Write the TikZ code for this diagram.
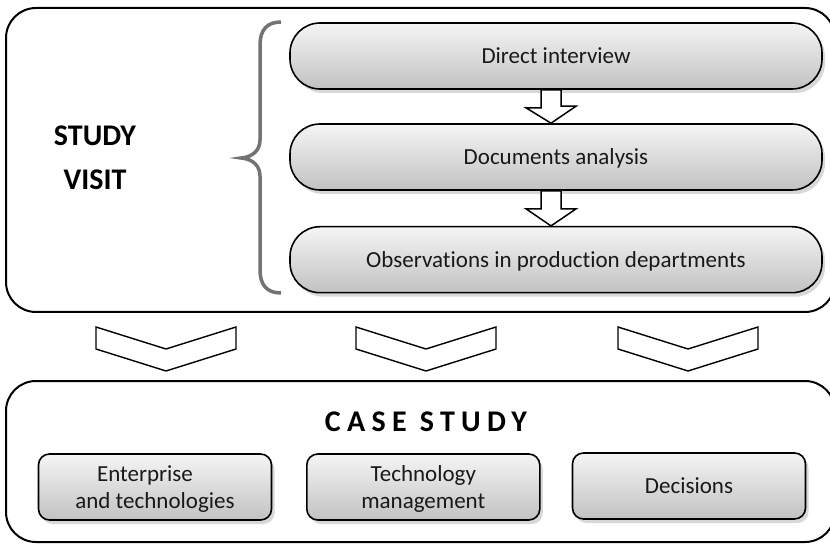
\documentclass[tikz,border=0pt]{standalone}
\usepackage{fontspec}
\setmainfont{Carlito}[Ligatures=CommonOff]
\usetikzlibrary{calc,shadows}
\begin{document}
\begin{tikzpicture}[x=1pt,y=-1pt,
  frame/.style={draw=black,line width=2pt,rounded corners=30pt},
  shadowed/.style={drop shadow={opacity=0.3,shadow xshift=3pt,shadow yshift=-4pt}},
  pill/.style={shadowed,draw=black,line width=1.6pt,rounded corners=30pt,
    top color=black!4,bottom color=black!24,
    minimum width=532pt,minimum height=66pt,
    font=\fontsize{23}{27}\selectfont,text=black!90,text height=15pt,text depth=0pt},
  sbox/.style={shadowed,draw=black,line width=1.6pt,rounded corners=11pt,
    top color=black!4,bottom color=black!24,
    minimum width=233pt,minimum height=66pt,align=center,
    font=\fontsize{23}{26.6}\selectfont,text=black!90,text depth=0pt},
  blockarrow/.style={draw=black,line width=1.5pt,fill=white,line join=miter},
  chevron/.style={draw=black,line width=1.4pt,fill=white,line join=miter},
  bracestyle/.style={draw=black!55,line width=3.5pt},
  title/.style={font=\fontsize{30}{44}\selectfont\bfseries,align=center,text depth=0pt}
]
\useasboundingbox (0,0) rectangle (830,545);
\clip (0,0) rectangle (830,545);
\fill[white] (0,0) rectangle (830,545);

% outer frames
\draw[frame] (6,8) rectangle (835,312);
\draw[frame] (6,381) rectangle (835,542);

% study visit
\node[title] (sv) at (95,158) {STUDY\\VISIT};

% brace
\draw[bracestyle] (281,22) .. controls (267,22) and (260,30) .. (260,45)
  -- (260,140) .. controls (260,150) and (253,157) .. (241,158)
  .. controls (253,159) and (260,166) .. (260,176)
  -- (260,270) .. controls (260,285) and (267,293) .. (281,293);

% pills
\node[pill] (p1) at (556,56) {Direct interview};
\node[pill] (p2) at (556,157) {Documents analysis};
\node[pill] (p3) at (556,259.7) {Observations in production departments};

% hollow arrows between pills
\draw[blockarrow] ($(p1.south)+(-15,0)$) -- ++(0,18) -- ++(-15,0)
  -- ($(p2.north)+(-5,0)$) -- ++(25,-17) -- ++(-15,0)
  -- ($(p1.south)+(5,0)$) -- cycle;
\draw[blockarrow] ($(p2.south)+(-15,0)$) -- ++(0,18) -- ++(-15,0)
  -- ($(p3.north)+(-5,0)$) -- ++(25,-17) -- ++(-15,0)
  -- ($(p2.south)+(5,0)$) -- cycle;

% chevrons
\foreach \c in {166,426,688}
  \draw[chevron] (\c-70,327) -- (\c,349) -- (\c+70,327) -- (\c+70,349)
    -- (\c,371) -- (\c-70,349) -- cycle;

% case study
\node[font=\fontsize{30}{36}\selectfont\bfseries\addfontfeature{LetterSpace=21},
  text height=20pt,text depth=0pt] (cs) at (426,421.7) {CASE STUDY};

\node[sbox] (b1) at (155,487) {Enterprise\rule{20pt}{0pt}\\and technologies};
\node[sbox] (b2) at (423.3,487) {Technology\\management};
\node[sbox,text height=15pt] (b3) at (689,486) {Decisions};
\end{tikzpicture}
\end{document}
